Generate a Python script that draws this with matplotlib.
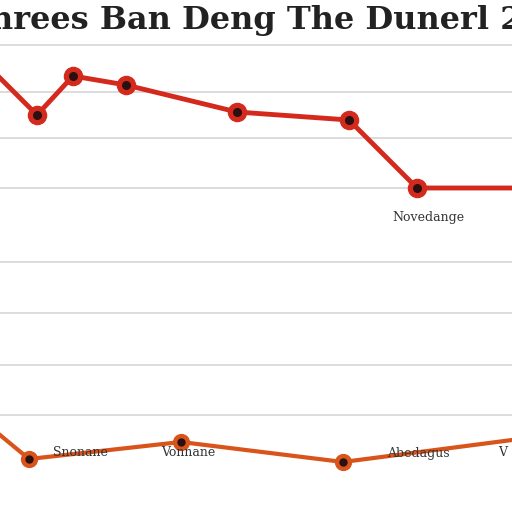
import matplotlib
matplotlib.use("Agg")
import matplotlib.pyplot as plt

# values (y axis runs downward like the image)
red_x = [0, 37, 73, 126, 237, 349, 417, 512]
red_y = [78, 115, 76, 85, 112, 120, 188, 188]
orange_x = [0, 29, 181, 343, 512]
orange_y = [435, 459, 442, 462, 440]
grid_y = [45, 92, 138, 188, 262, 313, 365, 415]
labels = [(428, 218, "Novedange"), (80, 453, "Snonane"), (188, 453, "Vonnane"),
          (418, 453, "Abedagus"), (503, 453, "V")]

fig = plt.figure(figsize=(5.12, 5.12), dpi=100)
ax = fig.add_axes([0, 0, 1, 1])
ax.set_xlim(0, 512)
ax.set_ylim(512, 0)
ax.axis("off")

for g in grid_y:
    ax.axhline(g, color="#d6d6d6", linewidth=1.2, zorder=0)

ax.plot(red_x, red_y, color="#d42a1e", linewidth=3.5, zorder=2)
ax.scatter(red_x[1:-1], red_y[1:-1], s=170, color="#d42a1e", zorder=3)
ax.scatter(red_x[1:-1], red_y[1:-1], s=30, color="#2a1010", zorder=4)

ax.plot(orange_x, orange_y, color="#d9541a", linewidth=3, zorder=2)
ax.scatter(orange_x[1:-1], orange_y[1:-1], s=130, color="#d9541a", zorder=3)
ax.scatter(orange_x[1:-1], orange_y[1:-1], s=25, color="#2a1010", zorder=4)

for x, y, t in labels:
    ax.text(x, y, t, fontsize=9, family="DejaVu Serif", color="#333333",
            ha="center", va="center")

ax.text(256, 20, "nrees Ban Deng The Dunerl 2", fontsize=23, family="DejaVu Serif",
        fontweight="bold", color="#222222", ha="center", va="center")

fig.savefig("out.png", dpi=100)
